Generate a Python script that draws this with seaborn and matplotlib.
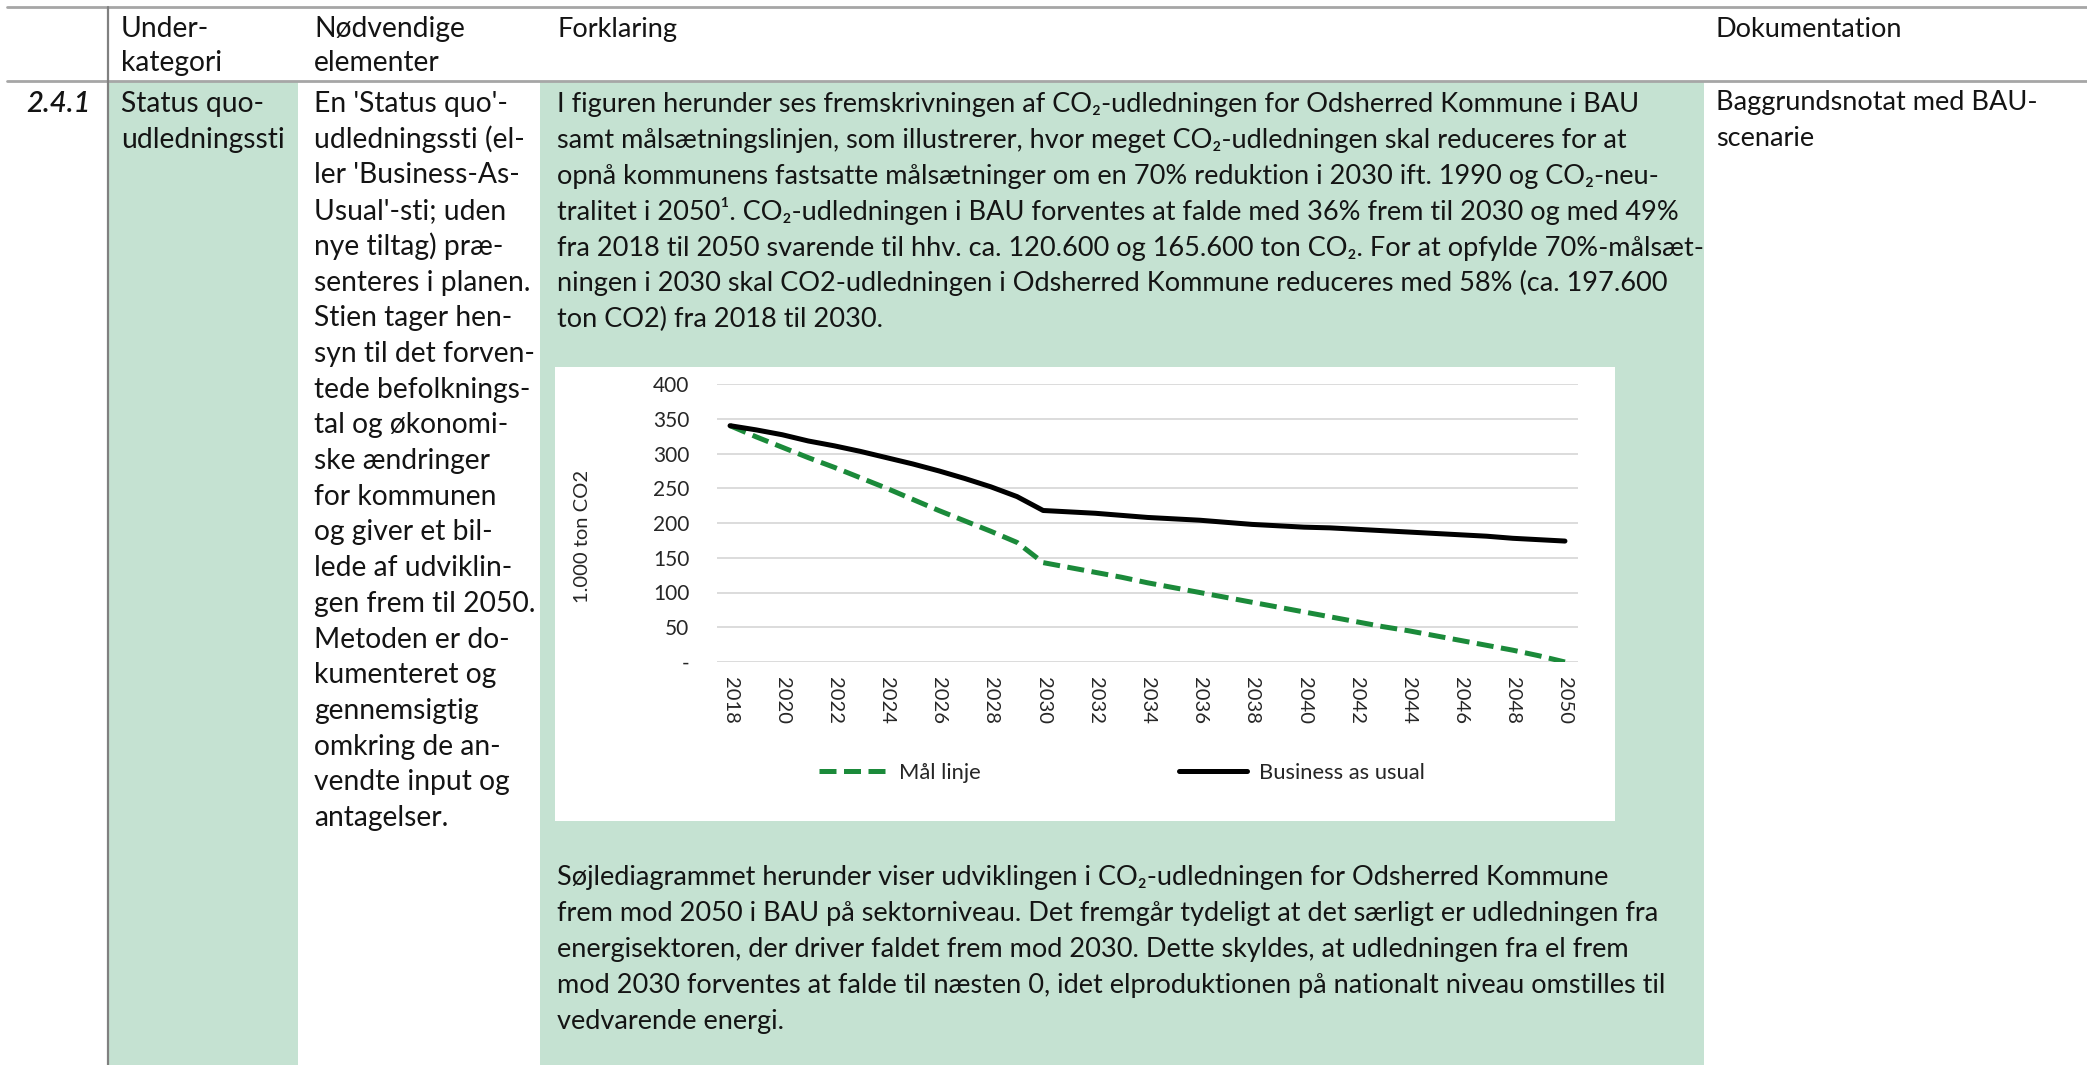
import pandas as pd
import matplotlib.pyplot as plt
import seaborn as sns
from matplotlib.patches import Rectangle

# Chart data (1.000 ton CO2)
years = list(range(2018, 2051))
maal_linje = [340, 324, 309, 294, 280, 265, 250, 234, 218, 203, 188, 172, 143,
              136, 129, 122, 114, 107, 100, 93, 86, 79, 72, 65, 58, 51, 45, 38,
              31, 24, 17, 9, 0]
business_as_usual = [340, 334, 327, 318, 311, 303, 294, 285, 275, 264, 252, 238, 218,
                     216, 214, 211, 208, 206, 204, 201, 198, 196, 194, 193, 191, 189,
                     187, 185, 183, 181, 178, 176, 174]
series_names = ['Mål linje', 'Business as usual']
y_ticks = [0, 50, 100, 150, 200, 250, 300, 350, 400]
y_tick_labels = ['-', '50', '100', '150', '200', '250', '300', '350', '400']
x_ticks = years[::2]

# Table text
header_cols = [['Under-', 'kategori'], ['Nødvendige', 'elementer'], ['Forklaring'], ['Dokumentation']]
row_number = '2.4.1'
underkategori = ['Status quo-', 'udledningssti']
elementer = ["En 'Status quo'-", 'udledningssti (el-', "ler 'Business-As-", "Usual'-sti; uden",
             'nye tiltag) præ-', 'senteres i planen.', 'Stien tager hen-', 'syn til det forven-',
             'tede befolknings-', 'tal og økonomi-', 'ske ændringer', 'for kommunen',
             'og giver et bil-', 'lede af udviklin-', 'gen frem til 2050.', 'Metoden er do-',
             'kumenteret og', 'gennemsigtig', 'omkring de an-', 'vendte input og', 'antagelser.']
forklaring_1 = ['I figuren herunder ses fremskrivningen af CO₂-udledningen for Odsherred Kommune i BAU',
                'samt målsætningslinjen, som illustrerer, hvor meget CO₂-udledningen skal reduceres for at',
                'opnå kommunens fastsatte målsætninger om en 70% reduktion i 2030 ift. 1990 og CO₂-neu-',
                'tralitet i 2050¹. CO₂-udledningen i BAU forventes at falde med 36% frem til 2030 og med 49%',
                'fra 2018 til 2050 svarende til hhv. ca. 120.600 og 165.600 ton CO₂. For at opfylde 70%-målsæt-',
                'ningen i 2030 skal CO2-udledningen i Odsherred Kommune reduceres med 58% (ca. 197.600',
                'ton CO2) fra 2018 til 2030.']
forklaring_2 = ['Søjlediagrammet herunder viser udviklingen i CO₂-udledningen for Odsherred Kommune',
                'frem mod 2050 i BAU på sektorniveau. Det fremgår tydeligt at det særligt er udledningen fra',
                'energisektoren, der driver faldet frem mod 2030. Dette skyldes, at udledningen fra el frem',
                'mod 2030 forventes at falde til næsten 0, idet elproduktionen på nationalt niveau omstilles til',
                'vedvarende energi.']
dokumentation = ['Baggrundsnotat med BAU-', 'scenarie']

sns.set_style('white')
plt.rcParams['font.family'] = ['Lato', 'DejaVu Sans']

W, H = 2087, 1065
GREEN_CELL = '#c5e2d2'
INK = '#141414'
BODY = 19.5
NARROW = 20.3   # the narrow columns look a touch larger
PITCH = 35.7

fig = plt.figure(figsize=(W / 100, H / 100), dpi=100)
fig.patch.set_facecolor('white')

# background layer in pixel coordinates
bg = fig.add_axes([0, 0, 1, 1])
bg.set_xlim(0, W)
bg.set_ylim(H, 0)
bg.axis('off')

bg.add_patch(Rectangle((109, 82), 189, H - 82, color=GREEN_CELL, lw=0))
bg.add_patch(Rectangle((540, 82), 1164, H - 82, color=GREEN_CELL, lw=0))
bg.add_patch(Rectangle((555, 367), 1060, 454, color='white', lw=0))
bg.plot([7, W], [7, 7], color='#a6a6a6', lw=2)
bg.plot([7, W], [81, 81], color='#a6a6a6', lw=2)
bg.plot([108, 108], [7, H], color='#808080', lw=1.6)


def put(x, y, s, size=BODY, **kw):
    bg.text(x, y, s, fontsize=size, color=INK, ha='left', va='baseline', **kw)


for x, lines, size in zip([121, 314, 557, 1716], header_cols, [NARROW, NARROW, BODY, BODY]):
    for i, s in enumerate(lines):
        put(x, 37 + i * 34, s, size)

put(26, 112, row_number, size=21, style='italic', fontweight='semibold')
for i, s in enumerate(underkategori):
    put(121, 112 + i * PITCH, s, NARROW)
for i, s in enumerate(elementer):
    put(314, 112 + i * PITCH, s, NARROW)
for i, s in enumerate(forklaring_1):
    put(557, 112 + i * 35.9, s)
for i, s in enumerate(forklaring_2):
    put(557, 885 + i * 36, s)
for i, s in enumerate(dokumentation):
    put(1716, 110 + i * PITCH, s)

# line chart
df = pd.DataFrame({
    'year': years * 2,
    'value': maal_linje + business_as_usual,
    'serie': [series_names[0]] * len(years) + [series_names[1]] * len(years),
})

ax = fig.add_axes([717 / W, 1 - 662 / H, 861 / W, 278 / H])
ax.set_facecolor('none')
sns.lineplot(data=df, x='year', y='value', hue='serie', style='serie',
             hue_order=series_names, style_order=series_names,
             palette={'Mål linje': '#1b8a3a', 'Business as usual': '#000000'},
             dashes={'Mål linje': (3.4, 1.5), 'Business as usual': ''},
             lw=3.6, legend=False, ax=ax)
ax.lines[0].set_dash_capstyle('butt')

ax.set_xlim(2017.5, 2050.5)
ax.set_ylim(0, 400)
ax.set_yticks(y_ticks)
ax.set_yticklabels(y_tick_labels)
ax.set_xticks(x_ticks)
ax.set_xticklabels([str(y) for y in x_ticks], rotation=-90, va='top', ha='center')
ax.tick_params(axis='y', length=0, pad=20, labelsize=15, labelcolor='#262626')
ax.tick_params(axis='x', length=0, pad=11, labelsize=14.5, labelcolor='#262626')
ax.yaxis.grid(True, color='#d9d9d9', lw=1.3)
ax.set_axisbelow(True)
ax.set_xlabel('')
ax.set_ylabel('')
for sp in ax.spines.values():
    sp.set_visible(False)

bg.text(583, 536, '1.000 ton CO2', rotation=90, fontsize=14.5, color='#262626',
        ha='center', va='center')

ax.legend(handles=ax.lines[:2], labels=series_names, loc='center',
          bbox_to_anchor=(1122 / W, 1 - 773 / H), bbox_transform=fig.transFigure,
          ncol=2, frameon=False, fontsize=15.8, handlelength=3.1, handletextpad=0.55,
          columnspacing=9.0)

fig.savefig('out.png', dpi=100)
